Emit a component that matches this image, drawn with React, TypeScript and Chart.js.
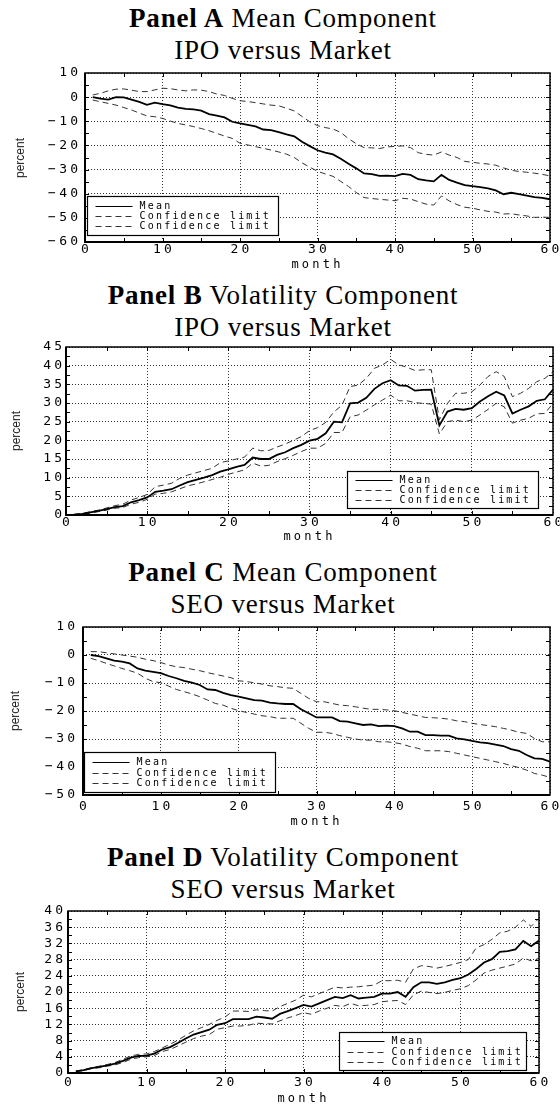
import React, { useEffect, useRef } from 'react';
import { Chart, registerables } from 'chart.js';

Chart.register(...registerables);

// ---------------- DATA ----------------
const months = [
  1, 2, 3, 4, 5, 6, 7, 8, 9, 10, 11, 12, 13, 14, 15, 16, 17, 18, 19, 20,
  21, 22, 23, 24, 25, 26, 27, 28, 29, 30, 31, 32, 33, 34, 35, 36, 37, 38, 39, 40,
  41, 42, 43, 44, 45, 46, 47, 48, 49, 50, 51, 52, 53, 54, 55, 56, 57, 58, 59, 60,
];

const xTicks = [0, 10, 20, 30, 40, 50, 60];

// Panel A: Mean component, IPO versus Market
const ipoMeanMean = [
  0, -0.6, -1.0, 0.0, -0.1, -1.0, -2.0, -3.2, -2.3, -2.9, -3.4, -4.3, -4.9, -5.1, -5.6, -7.0, -7.7, -8.4, -10.2, -10.9,
  -11.5, -12.1, -13.4, -13.7, -14.5, -15.4, -16.2, -18.5, -20.3, -22.0, -23.0, -23.7, -25.5, -27.6, -29.5, -31.6, -31.9, -32.6, -32.5, -32.7,
  -31.8, -32.2, -34.0, -34.5, -34.9, -32.2, -34.3, -35.4, -36.4, -36.9, -37.3, -37.8, -38.6, -40.2, -39.6, -40.2, -40.8, -41.4, -41.7, -42.3,
];
const ipoMeanUpper = [
  0.9, 1.6, 2.6, 3.3, 3.4, 2.9, 2.3, 2.3, 3.0, 3.7, 3.5, 3.0, 2.6, 3.0, 2.9, 2.3, 1.3, 0.7, -0.5, -1.5,
  -1.8, -2.3, -2.8, -3.3, -3.6, -4.6, -5.7, -8.0, -10.2, -11.8, -12.6, -13.2, -14.6, -17.2, -19.3, -20.9, -21.0, -21.3, -20.6, -20.4,
  -20.2, -20.9, -23.0, -23.7, -24.0, -22.7, -24.0, -25.0, -26.6, -27.0, -27.4, -27.7, -28.2, -29.3, -30.3, -30.8, -31.1, -31.5, -32.0, -32.6,
];
const ipoMeanLower = [
  -1.2, -1.9, -2.6, -3.3, -4.3, -5.3, -6.6, -7.8, -8.1, -8.8, -9.9, -10.9, -11.5, -12.2, -13.0, -13.9, -15.0, -16.1, -17.1, -19.1,
  -19.8, -20.5, -21.2, -21.9, -22.7, -23.6, -25.0, -27.2, -29.0, -30.7, -31.8, -32.8, -34.9, -37.0, -39.5, -41.6, -42.0, -42.3, -42.6, -42.9,
  -41.9, -42.2, -43.3, -44.3, -44.7, -40.9, -43.0, -44.5, -45.6, -46.0, -46.7, -47.3, -47.6, -48.4, -48.3, -48.8, -49.2, -49.8, -49.7, -49.8,
];

// Panel B: Volatility component, IPO versus Market
const ipoVolMean = [
  0.1, 0.3, 0.7, 1.1, 1.6, 2.1, 2.4, 3.4, 4.0, 4.7, 6.2, 6.5, 6.9, 7.9, 8.8, 9.4, 10.0, 10.7, 11.6, 12.2,
  12.9, 13.4, 15.4, 15.0, 15.0, 16.1, 16.8, 17.9, 18.8, 19.9, 20.4, 21.9, 25.0, 24.8, 29.9, 30.1, 31.4, 33.8, 35.3, 36.1,
  34.7, 34.6, 33.3, 33.5, 33.6, 24.0, 27.7, 28.4, 28.2, 28.6, 30.4, 31.8, 33.0, 32.0, 27.2, 28.2, 29.1, 30.6, 31.0, 33.6,
];
const ipoVolUpper = [
  0.2, 0.4, 0.9, 1.3, 1.9, 2.5, 2.9, 4.0, 4.7, 5.5, 7.6, 8.0, 8.5, 9.8, 10.7, 11.3, 11.9, 12.5, 14.0, 14.5,
  15.0, 15.5, 17.9, 17.2, 17.3, 18.2, 19.0, 20.0, 21.0, 22.6, 23.4, 24.8, 27.6, 29.4, 34.4, 34.8, 36.6, 39.3, 40.2, 41.7,
  40.2, 39.6, 38.7, 38.9, 38.9, 25.5, 29.9, 32.6, 32.6, 33.0, 34.8, 37.1, 38.4, 37.1, 31.7, 32.6, 33.9, 35.7, 36.6, 38.4,
];
const ipoVolLower = [
  0.0, 0.2, 0.5, 0.9, 1.3, 1.8, 2.0, 2.9, 3.4, 4.2, 5.6, 5.8, 6.2, 7.0, 7.8, 8.3, 8.9, 9.5, 10.1, 10.9,
  11.5, 12.1, 13.9, 13.1, 13.3, 14.3, 15.1, 16.0, 17.0, 17.9, 17.9, 19.2, 22.1, 22.1, 26.3, 26.8, 28.1, 29.5, 30.8, 32.1,
  30.6, 30.6, 30.1, 29.9, 29.7, 21.7, 25.0, 25.4, 25.0, 25.4, 26.8, 28.3, 29.9, 29.0, 24.6, 25.4, 25.9, 27.1, 27.2, 29.9,
];

// Panel C: Mean component, SEO versus Market
const seoMeanMean = [
  0, -0.4, -1.2, -2.0, -2.4, -3.0, -4.8, -5.6, -6.0, -6.5, -7.5, -8.3, -9.2, -9.9, -10.7, -12.3, -12.5, -13.5, -14.3, -14.9,
  -15.5, -16.1, -16.3, -17.0, -17.3, -17.5, -17.5, -19.4, -20.8, -22.3, -22.3, -22.3, -23.6, -23.8, -24.4, -25.0, -24.8, -25.4, -25.2, -25.4,
  -26.2, -27.4, -27.4, -28.6, -28.6, -28.8, -28.8, -29.8, -30.1, -30.7, -31.2, -31.5, -32.0, -32.5, -33.6, -34.2, -35.7, -36.9, -37.1, -38.1,
];
const seoMeanUpper = [
  1.2, 1.2, 0.8, 0.4, 0, -0.4, -0.8, -1.5, -2.0, -2.7, -3.6, -4.2, -4.5, -5.1, -5.6, -6.3, -6.9, -7.5, -8.1, -9.2,
  -9.5, -9.9, -10.4, -11.0, -11.3, -11.7, -11.9, -13.7, -15.5, -16.7, -16.7, -17.3, -17.9, -18.1, -18.5, -19.0, -19.4, -19.4, -19.6, -19.9,
  -20.5, -21.1, -21.7, -22.3, -22.4, -22.6, -22.9, -23.5, -23.8, -24.4, -24.8, -25.2, -25.6, -26.2, -26.8, -27.6, -28.0, -29.8, -31.0, -31.0,
];
const seoMeanLower = [
  -1.2, -2.0, -3.0, -3.9, -4.8, -5.6, -6.5, -8.3, -9.5, -9.9, -11.1, -12.3, -13.1, -13.9, -14.9, -16.1, -17.3, -17.9, -19.0, -19.9,
  -20.5, -21.1, -21.7, -22.0, -22.6, -22.6, -22.6, -24.4, -26.2, -27.6, -27.6, -28.0, -28.8, -29.4, -30.0, -30.4, -30.4, -31.0, -31.0, -31.3,
  -31.8, -32.7, -33.3, -34.2, -34.2, -34.2, -34.5, -35.1, -35.7, -36.3, -36.9, -37.5, -38.1, -38.7, -39.5, -40.2, -41.1, -42.3, -42.9, -43.7,
];

// Panel D: Volatility component, SEO versus Market
const seoVolMean = [
  0.4, 0.7, 1.2, 1.5, 1.9, 2.3, 3.0, 3.8, 4.2, 4.3, 4.8, 5.8, 6.4, 7.4, 8.5, 9.5, 10.1, 10.7, 11.9, 12.3,
  13.3, 13.3, 13.3, 13.9, 13.7, 13.4, 14.6, 15.3, 16.0, 16.8, 16.4, 17.2, 18.0, 18.8, 18.5, 19.2, 18.4, 18.6, 18.8, 19.6,
  19.6, 20.0, 18.8, 21.2, 22.4, 22.4, 22.0, 22.4, 23.0, 23.4, 24.3, 25.7, 27.3, 28.1, 29.9, 30.1, 30.5, 32.6, 31.3, 32.7,
];
const seoVolUpper = [
  0.5, 0.8, 1.3, 1.7, 2.1, 2.6, 3.4, 4.2, 4.6, 4.7, 5.3, 6.2, 7.1, 8.1, 9.3, 10.4, 11.2, 12.0, 13.0, 13.8,
  15.3, 15.3, 15.2, 15.6, 15.4, 15.3, 16.4, 17.2, 18.0, 19.2, 18.8, 19.6, 20.4, 21.2, 21.0, 21.2, 21.3, 21.5, 21.7, 22.8,
  22.8, 22.9, 22.4, 25.7, 26.5, 26.3, 25.9, 26.3, 26.8, 27.3, 28.0, 30.9, 31.7, 33.0, 34.6, 35.0, 36.0, 37.8, 36.2, 38.2,
];
const seoVolLower = [
  0.3, 0.6, 1.1, 1.3, 1.7, 2.0, 2.6, 3.4, 3.8, 4.0, 4.3, 5.3, 5.8, 6.7, 7.6, 8.5, 9.1, 9.5, 10.8, 11.2,
  11.6, 11.6, 11.8, 12.3, 12.2, 12.1, 12.9, 13.6, 14.2, 14.9, 14.5, 15.3, 16.0, 16.7, 16.4, 17.2, 16.6, 16.7, 16.9, 17.6,
  17.8, 17.9, 16.9, 19.3, 20.2, 19.9, 19.6, 19.9, 20.4, 20.8, 21.6, 23.0, 24.7, 25.4, 25.9, 26.4, 26.9, 28.4, 27.7, 28.3,
];

const seriesLabels = ['Mean', 'Confidence limit', 'Confidence limit'];
const xTitle = 'month';
const yTitle = 'percent';

// ---------------- LAYOUT / STYLE ----------------
const TICK_LS = 3.2;
const TICK_SIZE = 13;

type PanelCfg = {
  bold: string;
  title: string;
  sub: string;
  titleTop: number;
  plot: { left: number; right: number; top: number; bottom: number };
  yMin: number;
  yMax: number;
  yStep: number;
  yMinor: number;
  xLabelY: number;
  monthY: number;
  yLabelRight: number;
  percentX: number;
  legend: { x: number; y: number; w: number; h: number };
  series: number[][];
};

const panels: PanelCfg[] = [
  {
    bold: 'Panel A', title: 'Mean Component', sub: 'IPO versus Market', titleTop: 2,
    plot: { left: 85, right: 550, top: 73, bottom: 242 },
    yMin: -60, yMax: 10, yStep: 10, yMinor: 5,
    xLabelY: 250, monthY: 265, yLabelRight: 78, percentX: 20,
    legend: { x: 87, y: 196, w: 191, h: 39 },
    series: [ipoMeanMean, ipoMeanUpper, ipoMeanLower],
  },
  {
    bold: 'Panel B', title: 'Volatility Component', sub: 'IPO versus Market', titleTop: 279,
    plot: { left: 66, right: 553, top: 347, bottom: 515 },
    yMin: 0, yMax: 45, yStep: 5, yMinor: 2.5,
    xLabelY: 523, monthY: 537, yLabelRight: 62, percentX: 16,
    legend: { x: 347, y: 471, w: 191, h: 37 },
    series: [ipoVolMean, ipoVolUpper, ipoVolLower],
  },
  {
    bold: 'Panel C', title: 'Mean Component', sub: 'SEO versus Market', titleTop: 556,
    plot: { left: 83, right: 550, top: 627, bottom: 795 },
    yMin: -50, yMax: 10, yStep: 10, yMinor: 5,
    xLabelY: 807, monthY: 822, yLabelRight: 75, percentX: 15,
    legend: { x: 84, y: 752, w: 191, h: 40 },
    series: [seoMeanMean, seoMeanUpper, seoMeanLower],
  },
  {
    bold: 'Panel D', title: 'Volatility Component', sub: 'SEO versus Market', titleTop: 841,
    plot: { left: 68, right: 539, top: 911, bottom: 1073 },
    yMin: 0, yMax: 40, yStep: 4, yMinor: 2,
    xLabelY: 1083, monthY: 1099, yLabelRight: 63, percentX: 20,
    legend: { x: 339, y: 1032, w: 187, h: 38 },
    series: [seoVolMean, seoVolUpper, seoVolLower],
  },
];

const framePlugin = {
  id: 'frameTicks',
  beforeDraw(chart: any) {
    (chart.ctx as any).letterSpacing = TICK_LS + 'px';
  },
  afterDatasetsDraw(chart: any, _args: any, opts: any) {
    const ctx = chart.ctx;
    const a = chart.chartArea;
    const xs = chart.scales.x;
    const ys = chart.scales.y;
    ctx.save();
    (ctx as any).letterSpacing = '0px';
    ctx.setLineDash([]);
    ctx.strokeStyle = '#000';
    ctx.lineWidth = 1;
    const seg = (x1: number, y1: number, x2: number, y2: number) => {
      ctx.beginPath();
      ctx.moveTo(x1, y1);
      ctx.lineTo(x2, y2);
      ctx.stroke();
    };
    // inward minor/major tick marks on all four sides
    const nx = Math.round((xs.max - xs.min) / opts.xMinor);
    for (let i = 1; i < nx; i++) {
      const v = xs.min + i * opts.xMinor;
      const px = Math.round(xs.getPixelForValue(v)) + 0.5;
      seg(px, a.bottom, px, a.bottom - 4);
      seg(px, a.top, px, a.top + 4);
    }
    const ny = Math.round((ys.max - ys.min) / opts.yMinor);
    for (let i = 1; i < ny; i++) {
      const v = ys.min + i * opts.yMinor;
      const py = Math.round(ys.getPixelForValue(v)) + 0.5;
      seg(a.left, py, a.left + 4, py);
      seg(a.right, py, a.right - 4, py);
    }
    // legend box
    const lg = opts.legend;
    if (lg) {
      const bx = lg.x + 0.5;
      const by = lg.y + 0.5;
      ctx.fillStyle = '#fff';
      ctx.fillRect(bx, by, lg.w, lg.h);
      ctx.lineWidth = 1.2;
      ctx.strokeStyle = '#000';
      ctx.strokeRect(bx, by, lg.w, lg.h);
      const dsets = chart.data.datasets;
      ctx.font = '10px "DejaVu Sans Mono", monospace';
      (ctx as any).letterSpacing = '2.2px';
      ctx.textBaseline = 'middle';
      ctx.textAlign = 'left';
      dsets.forEach((ds: any, i: number) => {
        const ry = Math.round(by + lg.h / 2 + (i - 1) * 10.3) + 0.5;
        ctx.save();
        ctx.strokeStyle = ds.borderColor;
        ctx.lineWidth = ds.borderDash ? 1 : 1.2;
        ctx.setLineDash(ds.borderDash || []);
        seg(bx + 8, ry, bx + 45, ry);
        ctx.restore();
        ctx.fillStyle = '#000';
        ctx.fillText(ds.label, bx + 52, ry);
      });
    }
    // frame
    ctx.setLineDash([]);
    ctx.strokeStyle = '#000';
    ctx.lineWidth = 1.5;
    ctx.strokeRect(a.left, a.top, a.right - a.left, a.bottom - a.top);
    ctx.lineWidth = 2;
    seg(a.left, a.top, a.left, a.bottom + 1);
    seg(a.left - 1, a.bottom, a.right, a.bottom);
    ctx.restore();
  },
};

function fmtTick(v: number) {
  const n = Math.round(v * 100) / 100;
  return n < 0 ? '\u2212' + String(Math.abs(n)) : String(n);
}

function PanelChart({ p }: { p: PanelCfg }) {
  const ref = useRef<HTMLCanvasElement | null>(null);
  const canvasTop = p.plot.top - 15;
  const bottomEdge = p.monthY + 8;
  const canvasH = bottomEdge - canvasTop;
  const xAxisH = bottomEdge - p.plot.bottom;
  const halfLine = (TICK_SIZE * 1.2) / 2;

  useEffect(() => {
    if (!ref.current) return;
    const styles = [
      { borderColor: '#000', borderWidth: 1.8 },
      { borderColor: '#333', borderWidth: 1, borderDash: [6, 4] },
      { borderColor: '#333', borderWidth: 1, borderDash: [6, 4] },
    ];
    const datasets = p.series.map((vals, i) => ({
      label: seriesLabels[i],
      data: months.map((m, j) => ({ x: m, y: vals[j] })),
      fill: false,
      pointRadius: 0,
      tension: 0,
      ...styles[i],
    }));
    const tickFont = { family: '"DejaVu Sans Mono", monospace', size: TICK_SIZE };
    const chart = new Chart(ref.current, {
      type: 'line',
      data: { datasets },
      plugins: [framePlugin as any],
      options: {
        animation: false,
        responsive: false,
        devicePixelRatio: 1,
        layout: {
          padding: { top: p.plot.top - canvasTop, left: 0, right: 560 - p.plot.right, bottom: 0 },
        },
        plugins: {
          legend: { display: false },
          title: { display: false },
          tooltip: { enabled: false },
          frameTicks: {
            xMinor: 5,
            yMinor: p.yMinor,
            legend: {
              x: p.legend.x,
              y: p.legend.y - canvasTop,
              w: p.legend.w,
              h: p.legend.h,
            },
          },
        } as any,
        scales: {
          x: {
            type: 'linear',
            min: 0,
            max: 60,
            afterBuildTicks: (s: any) => {
              s.ticks = xTicks.map((v) => ({ value: v }));
            },
            afterFit: (s: any) => {
              s.height = xAxisH;
              s.paddingLeft = 0;
              s.paddingRight = 0;
            },
            ticks: {
              color: '#000',
              font: tickFont,
              padding: Math.max(0, p.xLabelY - p.plot.bottom - halfLine),
              labelOffset: TICK_LS / 2,
              maxRotation: 0,
              autoSkip: false,
              callback: (v: any) => fmtTick(Number(v)),
            },
            grid: { color: '#333', lineWidth: 1, drawTicks: false },
            border: { display: false, dash: [1, 2] },
            title: {
              display: true,
              text: xTitle,
              color: '#000',
              font: { family: '"DejaVu Sans Mono", monospace', size: 12 },
              padding: { top: 0, bottom: 0.8 },
            },
          },
          y: {
            type: 'linear',
            min: p.yMin,
            max: p.yMax,
            afterFit: (s: any) => {
              s.width = p.plot.left;
              s.paddingTop = 0;
              s.paddingBottom = 0;
            },
            ticks: {
              stepSize: p.yStep,
              color: '#000',
              font: tickFont,
              padding: p.plot.left - p.yLabelRight - TICK_LS,
              autoSkip: false,
              callback: (v: any) => fmtTick(Number(v)),
            },
            grid: { color: '#333', lineWidth: 1, drawTicks: false },
            border: { display: false, dash: [1, 2] },
          },
        },
      } as any,
    });
    return () => chart.destroy();
  }, []);

  return (
    <>
      <div
        style={{
          position: 'absolute',
          left: 0,
          top: p.titleTop,
          width: 566,
          textAlign: 'center',
          fontFamily: '"Liberation Serif", serif',
          fontSize: 27,
          lineHeight: '32px',
          letterSpacing: '0.8px',
          color: '#000',
          whiteSpace: 'nowrap',
        }}
      >
        <div>
          <b>{p.bold}</b> {p.title}
        </div>
        <div>{p.sub}</div>
      </div>
      <canvas
        ref={ref}
        width={560}
        height={canvasH}
        style={{ position: 'absolute', left: 0, top: canvasTop, width: 560, height: canvasH }}
      />
      <div
        style={{
          position: 'absolute',
          left: p.percentX,
          top: (p.plot.top + p.plot.bottom) / 2,
          transform: 'translate(-50%, -50%) rotate(-90deg)',
          fontFamily: '"Liberation Sans", sans-serif',
          fontSize: 12,
          color: '#222',
          whiteSpace: 'nowrap',
        }}
      >
        {yTitle}
      </div>
    </>
  );
}

export default function App() {
  return (
    <div
      style={{
        position: 'absolute',
        left: 0,
        top: 0,
        width: 560,
        height: 1108,
        overflow: 'hidden',
        background: '#fff',
      }}
    >
      {panels.map((p) => (
        <PanelChart key={p.bold} p={p} />
      ))}
    </div>
  );
}
